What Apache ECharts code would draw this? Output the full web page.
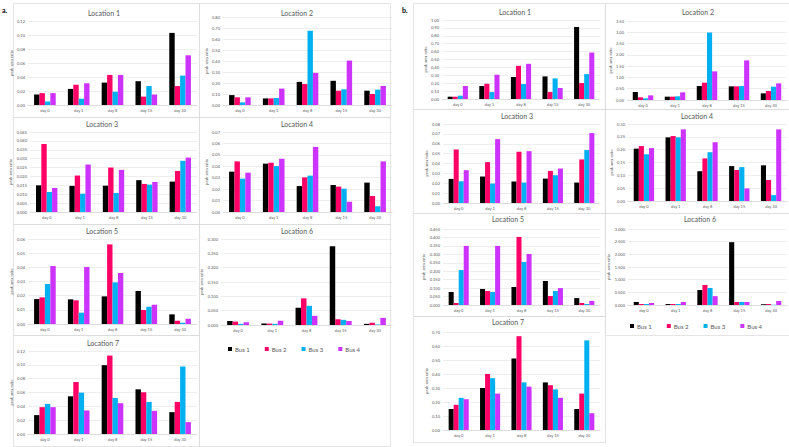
<!DOCTYPE html>
<html><head><meta charset="utf-8">
<script src="https://cdn.jsdelivr.net/npm/echarts@6/dist/echarts.min.js"></script>
<style>html,body{margin:0;padding:0;background:#fff}#c{width:789px;height:447px}</style>
</head><body><div id="c"></div>
<script>
const categories = ['day 0','day 1','day 8','day 15','day 30'];
const busNames = ['Bus 1','Bus 2','Bus 3','Bus 4'];
const busColors = ['#000000','#FF0066','#00B0F0','#CC33FF'];

// panel a — rows: Bus 1..Bus 4, columns: day 0, 1, 8, 15, 30
const aLoc1 = [[0.015,0.023,0.032,0.034,0.103],[0.017,0.029,0.043,0.012,0.027],[0.005,0.009,0.019,0.027,0.042],[0.017,0.031,0.043,0.015,0.071]];
const aLoc2 = [[0.09,0.06,0.21,0.22,0.13],[0.07,0.06,0.19,0.13,0.10],[0.024,0.064,0.675,0.143,0.14],[0.07,0.149,0.292,0.404,0.173]];
const aLoc3 = [[0.0150,0.0147,0.0148,0.0179,0.0171],[0.0383,0.0205,0.0250,0.0158,0.0231],[0.0113,0.0103,0.0107,0.0154,0.0288],[0.0135,0.0267,0.0237,0.0169,0.0306]];
const aLoc4 = [[0.0353,0.0423,0.0227,0.0236,0.0257],[0.0443,0.0431,0.0303,0.0222,0.0140],[0.0292,0.0402,0.0318,0.0204,0.0050],[0.0344,0.0466,0.0570,0.0090,0.0443]];
const aLoc5 = [[0.0176,0.0174,0.0195,0.0233,0.0068],[0.0188,0.0167,0.0562,0.0099,0.0023],[0.0282,0.0080,0.0294,0.0122,0.0009],[0.0409,0.0402,0.0360,0.0136,0.0037]];
const aLoc6 = [[0.014,0.005,0.060,0.275,0.004],[0.012,0.005,0.093,0.020,0.008],[0.004,0.004,0.067,0.018,0.002],[0.0095,0.015,0.032,0.014,0.025]];
const aLoc7 = [[0.0273,0.0545,0.0995,0.0646,0.0316],[0.0388,0.0751,0.1134,0.0603,0.0464],[0.0435,0.0598,0.0522,0.0464,0.0976],[0.0388,0.0340,0.0445,0.0335,0.0172]];
// panel b
const bLoc1 = [[0.029,0.164,0.277,0.286,0.912],[0.029,0.193,0.420,0.088,0.202],[0.042,0.088,0.189,0.261,0.315],[0.164,0.307,0.445,0.139,0.588]];
const bLoc2 = [[0.354,0.147,0.619,0.605,0.295],[0.118,0.147,0.767,0.605,0.398],[0.074,0.162,2.99,0.619,0.590],[0.206,0.339,1.268,1.755,0.737]];
const bLoc3 = [[0.0244,0.0268,0.0217,0.0247,0.0207],[0.0542,0.0414,0.0519,0.0325,0.0441],[0.0220,0.0197,0.0207,0.0281,0.0536],[0.0332,0.0647,0.0525,0.0349,0.0708]];
const bLoc4 = [[0.204,0.248,0.116,0.136,0.139],[0.214,0.253,0.166,0.121,0.082],[0.182,0.248,0.190,0.132,0.023],[0.206,0.279,0.229,0.049,0.279]];
const bLoc5 = [[0.077,0.095,0.107,0.142,0.041],[0.012,0.083,0.403,0.053,0.012],[0.207,0.077,0.255,0.083,0.006],[0.350,0.350,0.302,0.100,0.024]];
const bLoc6 = [[0.12,0.04,0.59,2.48,0.03],[0.04,0.04,0.79,0.12,0.04],[0.04,0.04,0.67,0.12,0.01],[0.08,0.12,0.35,0.12,0.16]];
const bLoc7 = [[0.15,0.30,0.51,0.34,0.15],[0.18,0.40,0.67,0.32,0.26],[0.23,0.37,0.34,0.29,0.64],[0.22,0.26,0.31,0.23,0.12]];

// y-axis tick settings: [max, step, decimals]
const aTicks = [[0.12,0.02,2],[0.80,0.10,2],[0.045,0.005,3],[0.07,0.01,2],[0.06,0.01,2],[0.300,0.050,3],[0.12,0.02,2]];
const bTicks = [[1.00,0.10,2],[3.50,0.50,2],[0.08,0.01,2],[0.30,0.05,2],[0.450,0.050,3],[3.000,0.500,3],[0.70,0.10,2]];
const locNames = ['Location 1','Location 2','Location 3','Location 4','Location 5','Location 6','Location 7'];

const panels = [
  {data:aLoc1,t:aTicks[0],g:[28,21,169,84],box:[13,3,186,114],tx:104,ty:13},
  {data:aLoc2,t:aTicks[1],g:[223,17,169,88],box:[199,3,191,114],tx:297,ty:13},
  {data:aLoc3,t:aTicks[2],g:[30,132,167,80],box:[13,117,186,107],tx:102,ty:124},
  {data:aLoc4,t:aTicks[3],g:[223,132,169,80],box:[199,117,191,107],tx:297,ty:124},
  {data:aLoc5,t:aTicks[4],g:[28,239,169,85],box:[13,224,186,111],tx:102,ty:231},
  {data:aLoc6,t:aTicks[5],g:[221,239,171,86],box:[199,224,191,222],tx:297,ty:231},
  {data:aLoc7,t:aTicks[6],g:[28,351,169,83],box:[13,335,186,111],tx:103,ty:343},
  {data:bLoc1,t:bTicks[0],g:[442,20,158,79],box:[413,3,192,106],tx:515,ty:12},
  {data:bLoc2,t:bTicks[1],g:[627,21,160,79],box:[605,3,184,106],tx:698,ty:12},
  {data:bLoc3,t:bTicks[2],g:[443,124,157,79],box:[413,109,192,104],tx:517,ty:116},
  {data:bLoc4,t:bTicks[3],g:[628,124,159,77],box:[605,109,184,104],tx:697,ty:116},
  {data:bLoc5,t:bTicks[4],g:[443,229,157,76],box:[413,213,192,103],tx:508,ty:219},
  {data:bLoc6,t:bTicks[5],g:[628,229,159,76],box:[605,213,184,122],tx:700,ty:219},
  {data:bLoc7,t:bTicks[6],g:[443,332,157,98],box:[413,316,192,126],tx:508,ty:322}
];
const nameIdx = [0,1,2,3,4,5,6,0,1,2,3,4,5,6];

const FONT = 'Lato, "Open Sans", sans-serif';
const grids=[],xAxes=[],yAxes=[],series=[],graphics=[];
panels.forEach((p,i)=>{
  grids.push({left:p.g[0],top:p.g[1],width:p.g[2],height:p.g[3]});
  xAxes.push({type:'category',gridIndex:i,data:categories,
    axisTick:{show:false},axisLine:{lineStyle:{color:'#d9d9d9',width:0.8}},
    axisLabel:{fontSize:4,color:'#595959',margin:3,fontFamily:FONT}});
  const dec=p.t[2];
  yAxes.push({type:'value',gridIndex:i,min:0,max:p.t[0],interval:p.t[1],
    name:'peak area ratio',nameLocation:'middle',nameRotate:90,nameGap:dec===3?11:9,
    nameTextStyle:{fontSize:4,color:'#595959',fontFamily:FONT},
    axisLine:{show:false},axisTick:{show:false},
    splitLine:{lineStyle:{color:'#e3e3e3',width:0.6}},
    axisLabel:{fontSize:4,color:'#595959',margin:3,fontFamily:FONT,formatter:v=>v.toFixed(dec)}});
  p.data.forEach((vals,j)=>{
    series.push({type:'bar',name:busNames[j],xAxisIndex:i,yAxisIndex:i,data:vals,
      itemStyle:{color:busColors[j]},barGap:'0%',barCategoryGap:'36%',
      emphasis:{disabled:true}});
  });
  graphics.push({type:'rect',shape:{x:p.box[0]+0.5,y:p.box[1]+0.5,width:p.box[2],height:p.box[3]},
    style:{fill:'none',stroke:'#d9d9d9',lineWidth:0.7},silent:true,z:-1});
  graphics.push({type:'text',x:p.tx,y:p.ty,style:{text:locNames[nameIdx[i]],fontSize:7,fill:'#595959',
    fontFamily:FONT,textAlign:'center',textVerticalAlign:'middle'},silent:true});
});
graphics.push({type:'text',x:2,y:10,style:{text:'a.',fontSize:7,fontWeight:'bold',fill:'#000',fontFamily:FONT,textVerticalAlign:'middle'}});
graphics.push({type:'text',x:402,y:10,style:{text:'b.',fontSize:7,fontWeight:'bold',fill:'#000',fontFamily:FONT,textVerticalAlign:'middle'}});

const legendBase = {data:busNames,icon:'rect',itemWidth:4,itemHeight:4,itemGap:15,
  textStyle:{fontSize:6,color:'#595959',fontFamily:FONT,padding:[0,0,0,-2]},selectedMode:false,padding:0};
const chart = echarts.init(document.getElementById('c'),null,{renderer:'svg'});
chart.setOption({
  animation:false,
  grid:grids,xAxis:xAxes,yAxis:yAxes,series:series,
  legend:[Object.assign({left:228,top:346},legendBase),Object.assign({left:630,top:323},legendBase)],
  graphic:graphics
});
</script></body></html>
